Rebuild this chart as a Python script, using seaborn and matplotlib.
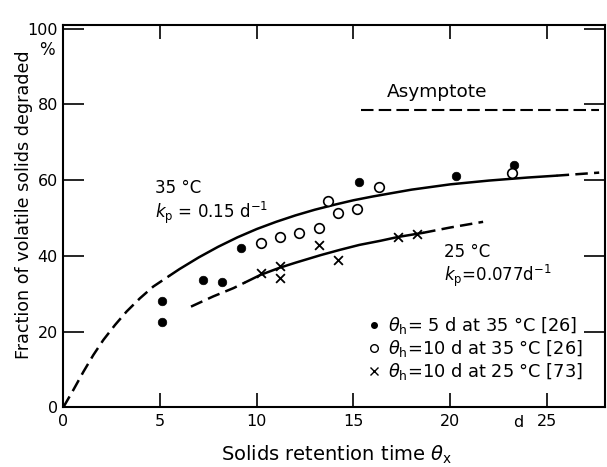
import matplotlib
matplotlib.use("Agg")
import matplotlib.pyplot as plt
from matplotlib.lines import Line2D
import seaborn as sns

# measured points
dots35_5_x = [5.1, 5.1, 7.2, 8.2, 9.2, 15.3, 20.3, 23.3]
dots35_5_y = [28.2, 22.5, 33.7, 33.2, 42.2, 59.6, 61.2, 64.0]
circ35_10_x = [10.2, 11.2, 12.2, 13.2, 13.7, 14.2, 15.2, 16.3, 23.2]
circ35_10_y = [43.5, 45.1, 46.1, 47.4, 54.6, 51.4, 52.5, 58.3, 62.0]
cross25_10_x = [10.2, 11.2, 11.2, 13.2, 14.2, 17.3, 18.3]
cross25_10_y = [35.4, 37.2, 34.1, 42.9, 39.0, 45.0, 45.8]

# fitted curves (dashed = extrapolated)
c35_dash1_x = [0, 0.52, 1.04, 1.55, 2.07, 2.68, 3.27, 3.96, 4.65, 5.5]
c35_dash1_y = [0, 4.6, 9.4, 13.8, 17.8, 21.8, 25.3, 28.8, 31.9, 34.8]
c35_solid_x = [5.5, 6.0, 7.0, 8.0, 9.0, 10.0, 11.0, 12.0, 13.0, 14.0, 15.0, 16.0, 18.0, 20.0, 22.0, 24.0, 25.5]
c35_solid_y = [34.8, 36.5, 39.6, 42.4, 44.9, 47.1, 49.0, 50.7, 52.2, 53.5, 54.7, 55.7, 57.5, 58.9, 59.9, 60.7, 61.2]
c35_dash2_x = [25.5, 26.6, 27.7]
c35_dash2_y = [61.2, 61.6, 62.0]

c25_dash1_x = [6.6, 7.75, 8.8, 9.4]
c25_dash1_y = [26.6, 29.3, 31.5, 33.0]
c25_solid_x = [9.4, 10.2, 11.2, 12.0, 13.3, 14.3, 15.3, 16.4, 17.3, 18.6]
c25_solid_y = [33.0, 35.0, 36.9, 38.2, 40.2, 41.6, 42.9, 44.0, 45.0, 46.1]
c25_dash2_x = [18.6, 20.0, 21.7]
c25_dash2_y = [46.1, 47.5, 49.0]

asym_x = [15.4, 27.7]
asym_y = [78.5, 78.5]

xticks = [0, 5, 10, 15, 20, 25]
xticklabels = ["0", "5", "10", "15", "20", "25"]
yticks = [0, 20, 40, 60, 80, 100]
legend_labels = [r"$\theta_\mathrm{h}$= 5 d at 35 °C [26]",
                 r"$\theta_\mathrm{h}$=10 d at 35 °C [26]",
                 r"$\theta_\mathrm{h}$=10 d at 25 °C [73]"]

sns.set_theme(style="ticks")
plt.rcParams["font.family"] = ["DejaVu Sans"]
plt.rcParams["mathtext.fontset"] = "dejavusans"
plt.rcParams["text.color"] = "black"
plt.rcParams["axes.labelcolor"] = "black"

fig = plt.figure(figsize=(6.07, 4.67), dpi=100)
ax = fig.add_axes([0.1043, 0.1278, 0.8924, 0.8187])

lw = 1.8
dash = (0, (5, 2.5))
for xs, ys, ls in [(c35_dash1_x, c35_dash1_y, dash), (c35_solid_x, c35_solid_y, "-"),
                   (c35_dash2_x, c35_dash2_y, dash), (c25_dash1_x, c25_dash1_y, dash),
                   (c25_solid_x, c25_solid_y, "-"), (c25_dash2_x, c25_dash2_y, dash)]:
    sns.lineplot(x=xs, y=ys, ax=ax, color="black", linewidth=lw, linestyle=ls,
                 estimator=None, sort=False)
sns.lineplot(x=asym_x, y=asym_y, ax=ax, color="black", linewidth=1.5,
             linestyle=(0, (6, 2.5)), estimator=None)

sns.scatterplot(x=dots35_5_x, y=dots35_5_y, ax=ax, marker="o", s=38,
                color="black", edgecolor="black", zorder=5)
sns.scatterplot(x=circ35_10_x, y=circ35_10_y, ax=ax, marker="o", s=48,
                facecolor="white", edgecolor="black", linewidth=1.2, zorder=5)
sns.scatterplot(x=cross25_10_x, y=cross25_10_y, ax=ax, marker="x", s=40,
                color="black", linewidth=1.3, zorder=5)

ax.set_xlim(0, 28.0)
ax.set_ylim(0, 101)
ax.set_xticks(xticks)
ax.set_xticklabels(xticklabels)
ax.set_yticks(yticks)
ax.tick_params(axis="both", direction="in", labelsize=11.5, colors="black")
ax.tick_params(axis="x", length=10, width=1.2, pad=5, top=True)
ax.tick_params(axis="y", length=15, width=1.2, pad=4, right=True)
for sp in ax.spines.values():
    sp.set_visible(True)
    sp.set_linewidth(1.5)
    sp.set_color("black")

ax.text(23.5, -1.9, "d", fontsize=11.5, ha="center", va="top", clip_on=False)

ax.set_xlabel(r"Solids retention time $\theta_\mathrm{x}$", fontsize=14)
ax.xaxis.set_label_coords(0.504, -0.095)
ax.set_ylabel("Fraction of volatile solids degraded", fontsize=12.6)
ax.yaxis.set_label_coords(-0.056, 0.53)
ax.text(-0.03, 0.935, "%", transform=ax.transAxes, fontsize=12,
        ha="center", va="center", clip_on=False)

ax.text(4.75, 58.0, "35 °C", fontsize=12, va="center")
ax.text(4.75, 51.4, r"$k_\mathrm{p}$ = 0.15 d$^{-1}$", fontsize=12, va="center")
ax.text(19.7, 41.1, "25 °C", fontsize=12, va="center")
ax.text(19.7, 34.6, r"$k_\mathrm{p}$=0.077d$^{-1}$", fontsize=12, va="center")
ax.text(16.7, 83.4, "Asymptote", fontsize=13.3, va="center")

handles = [Line2D([], [], marker="o", ls="none", color="black", markersize=4),
           Line2D([], [], marker="o", ls="none", markerfacecolor="white",
                  markeredgecolor="black", markersize=5.5),
           Line2D([], [], marker="x", ls="none", color="black", markersize=5.5)]
ax.legend(handles=handles, labels=legend_labels, loc="upper left",
          bbox_to_anchor=(0.54, 0.27), frameon=False, fontsize=12.8,
          handlelength=0.8, handletextpad=0.4, labelspacing=0.12, borderpad=0.1)

fig.savefig("out.png", dpi=100)
